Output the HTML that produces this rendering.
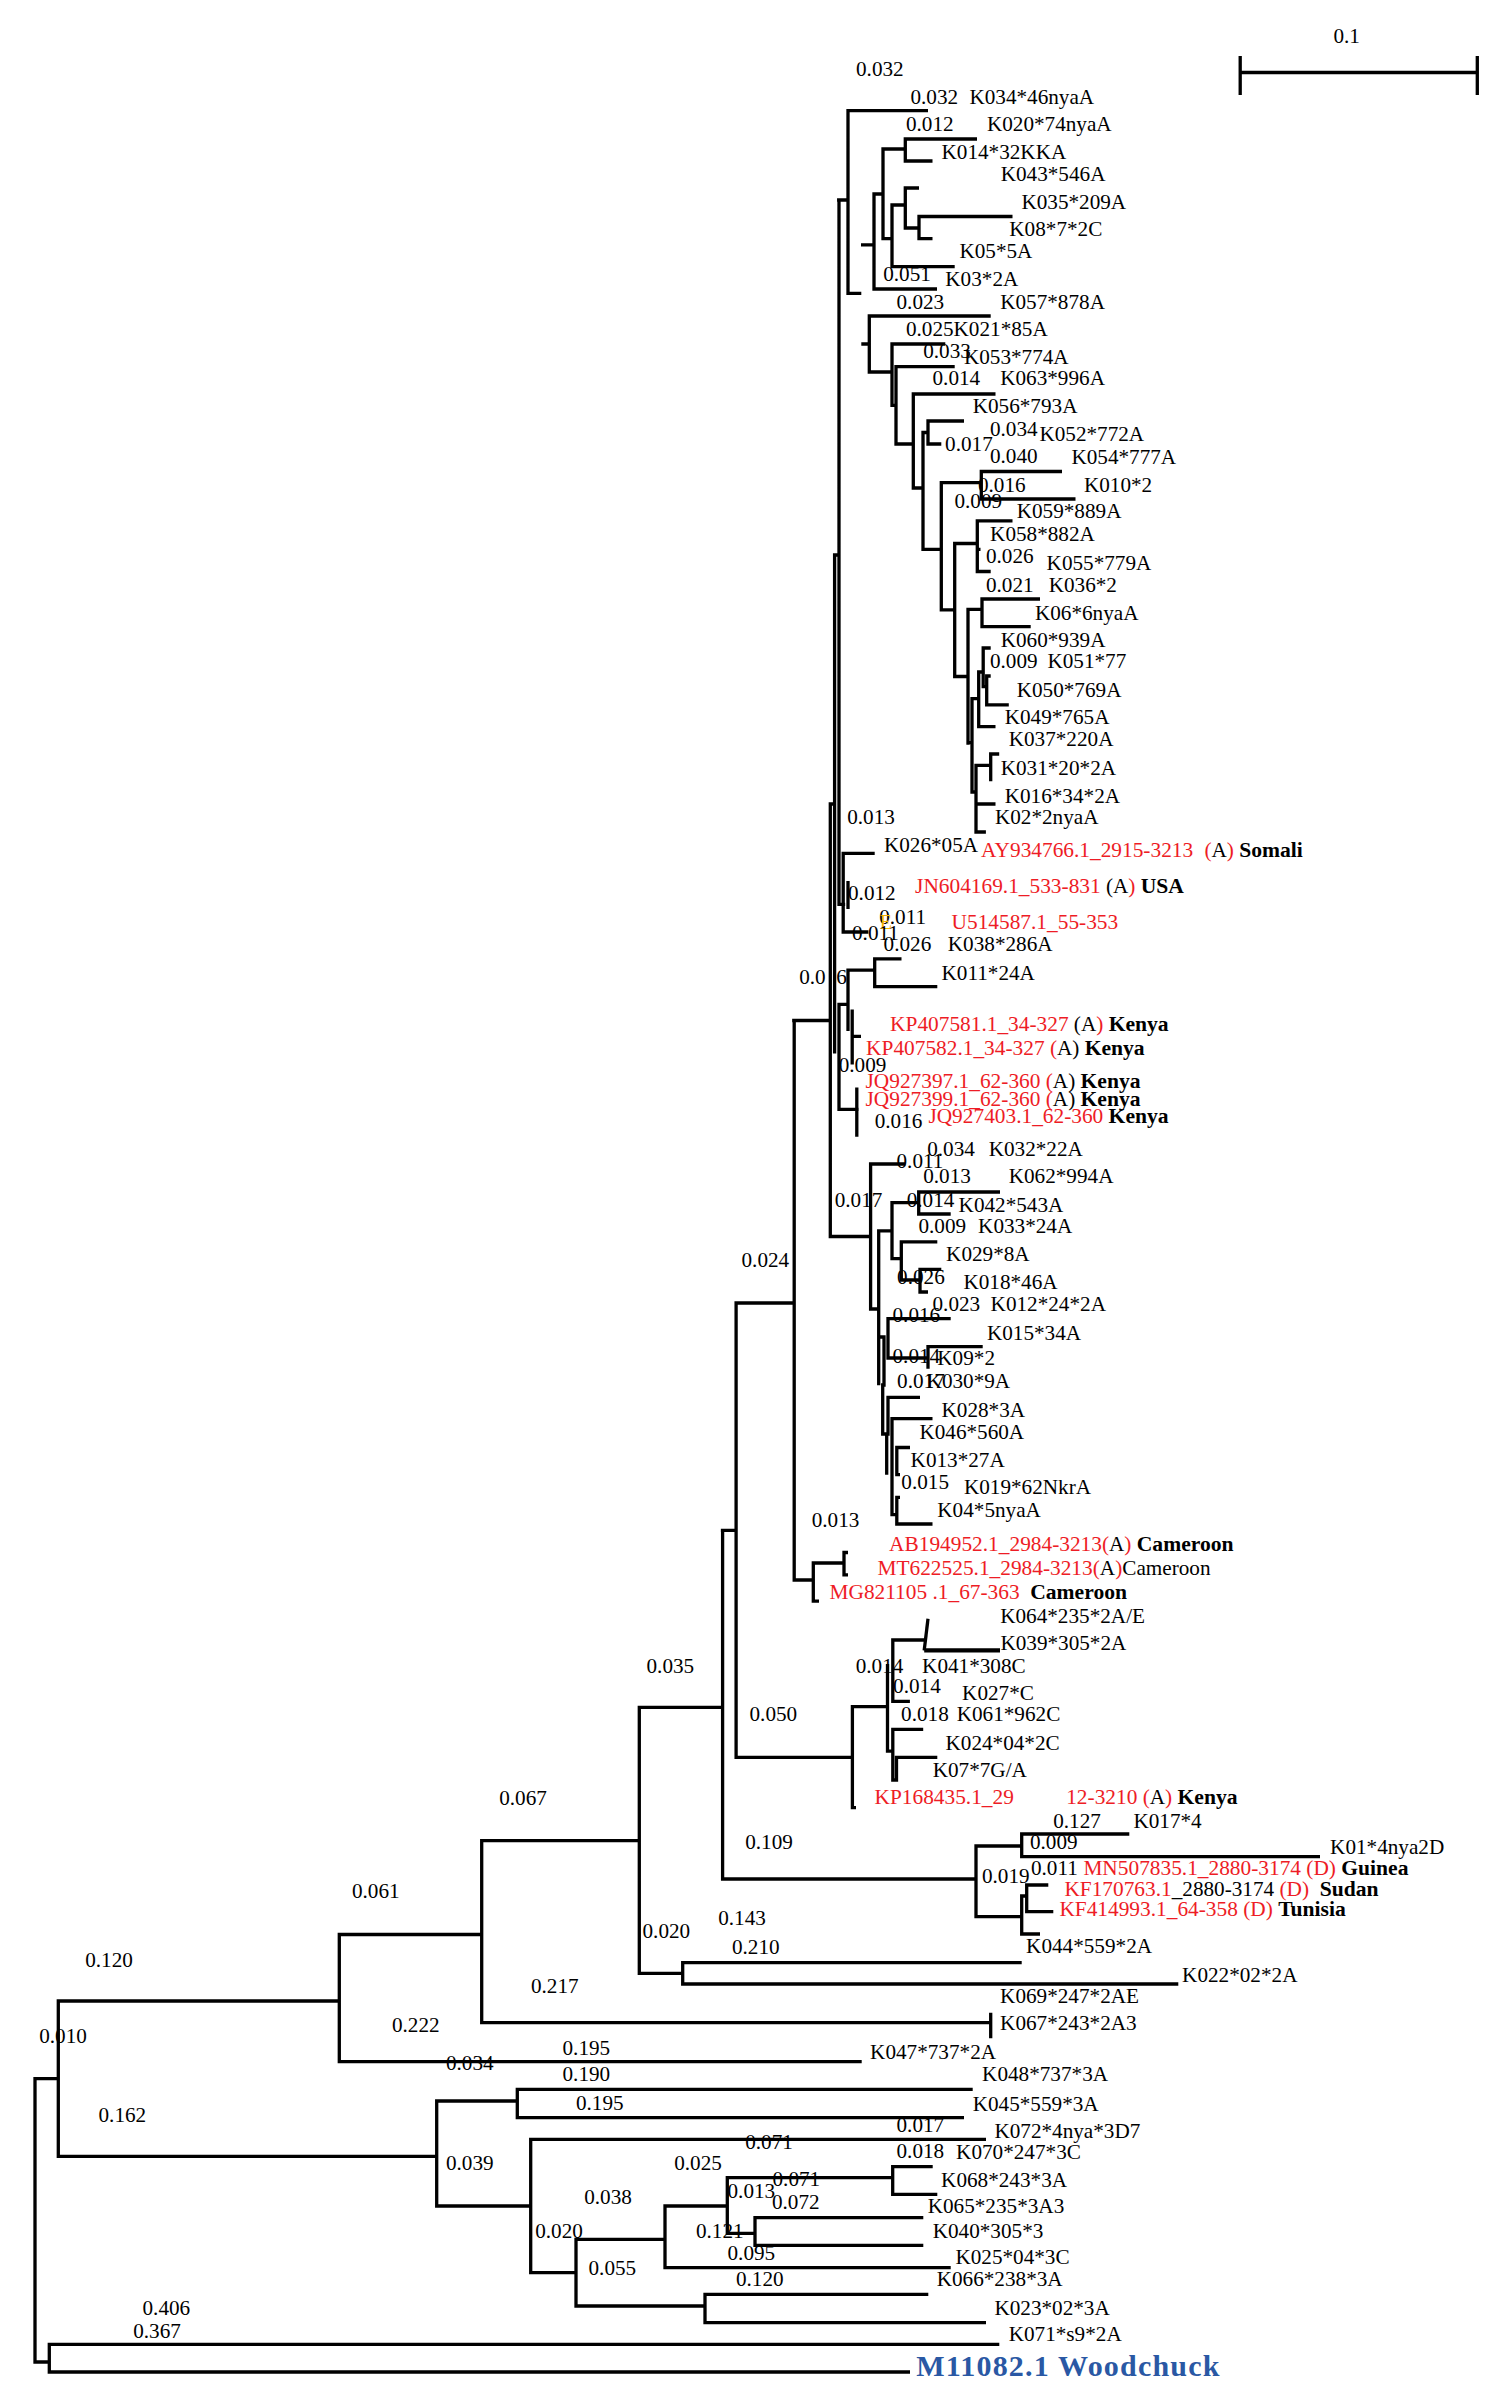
<!DOCTYPE html><html><head><meta charset="utf-8"><style>html,body{margin:0;padding:0;background:#fff;}svg{display:block;}text{font-family:"Liberation Serif",serif;white-space:pre;}</style></head><body>
<svg width="1500" height="2401" viewBox="0 0 1500 2401">
<rect width="1500" height="2401" fill="#fff"/>
<g font-size="21.2" xml:space="preserve">
<text x="1333.4" y="42.7"><tspan fill="#000">0.1</tspan></text>
<text x="856.0" y="75.5"><tspan fill="#000">0.032</tspan></text>
<text x="910.4" y="103.5"><tspan fill="#000">0.032</tspan></text>
<text x="969.4" y="103.7"><tspan fill="#000">K034*46nyaA</tspan></text>
<text x="905.9" y="130.7"><tspan fill="#000">0.012</tspan></text>
<text x="986.9" y="130.7"><tspan fill="#000">K020*74nyaA</tspan></text>
<text x="941.5" y="158.7"><tspan fill="#000">K014*32KKA</tspan></text>
<text x="1000.7" y="180.5"><tspan fill="#000">K043*546A</tspan></text>
<text x="1021.4" y="208.5"><tspan fill="#000">K035*209A</tspan></text>
<text x="1009.3" y="236.0"><tspan fill="#000">K08*7*2C</tspan></text>
<text x="959.4" y="258.0"><tspan fill="#000">K05*5A</tspan></text>
<text x="883.2" y="280.5"><tspan fill="#000">0.051</tspan></text>
<text x="945.3" y="285.9"><tspan fill="#000">K03*2A</tspan></text>
<text x="896.5" y="308.8"><tspan fill="#000">0.023</tspan></text>
<text x="1000.2" y="308.8"><tspan fill="#000">K057*878A</tspan></text>
<text x="905.9" y="336.0"><tspan fill="#000">0.025K021*85A</tspan></text>
<text x="923.2" y="357.9"><tspan fill="#000">0.033</tspan></text>
<text x="963.9" y="363.5"><tspan fill="#000">K053*774A</tspan></text>
<text x="932.5" y="385.3"><tspan fill="#000">0.014</tspan></text>
<text x="1000.2" y="385.3"><tspan fill="#000">K063*996A</tspan></text>
<text x="972.7" y="412.8"><tspan fill="#000">K056*793A</tspan></text>
<text x="989.9" y="436.0"><tspan fill="#000">0.034</tspan></text>
<text x="1039.4" y="441.3"><tspan fill="#000">K052*772A</tspan></text>
<text x="945.1" y="450.7"><tspan fill="#000">0.017</tspan></text>
<text x="989.9" y="462.7"><tspan fill="#000">0.040</tspan></text>
<text x="1071.4" y="463.5"><tspan fill="#000">K054*777A</tspan></text>
<text x="977.9" y="492.0"><tspan fill="#000">0.016</tspan></text>
<text x="1083.9" y="492.0"><tspan fill="#000">K010*2</tspan></text>
<text x="954.4" y="508.0"><tspan fill="#000">0.009</tspan></text>
<text x="1016.7" y="518.0"><tspan fill="#000">K059*889A</tspan></text>
<text x="990.1" y="540.5"><tspan fill="#000">K058*882A</tspan></text>
<text x="985.9" y="563.2"><tspan fill="#000">0.026</tspan></text>
<text x="1046.6" y="569.9"><tspan fill="#000">K055*779A</tspan></text>
<text x="985.9" y="592.0"><tspan fill="#000">0.021</tspan></text>
<text x="1048.7" y="592.0"><tspan fill="#000">K036*2</tspan></text>
<text x="1034.9" y="620.0"><tspan fill="#000">K06*6nyaA</tspan></text>
<text x="1000.7" y="647.2"><tspan fill="#000">K060*939A</tspan></text>
<text x="989.9" y="668.0"><tspan fill="#000">0.009</tspan></text>
<text x="1047.4" y="668.0"><tspan fill="#000">K051*77</tspan></text>
<text x="1016.7" y="697.3"><tspan fill="#000">K050*769A</tspan></text>
<text x="1004.7" y="723.5"><tspan fill="#000">K049*765A</tspan></text>
<text x="1008.7" y="745.5"><tspan fill="#000">K037*220A</tspan></text>
<text x="1000.7" y="774.7"><tspan fill="#000">K031*20*2A</tspan></text>
<text x="1004.7" y="802.7"><tspan fill="#000">K016*34*2A</tspan></text>
<text x="847.2" y="823.5"><tspan fill="#000">0.013</tspan></text>
<text x="994.9" y="823.5"><tspan fill="#000">K02*2nyaA</tspan></text>
<text x="883.9" y="852.0"><tspan fill="#000">K026*05A</tspan></text>
<text x="981.1" y="857.3"><tspan fill="#ee1c25" font-size="21.35">AY934766.1_2915-3213 </tspan></text>
<text x="1204.4" y="857.3"><tspan fill="#ee1c25" font-size="21.35">(</tspan><tspan fill="#000">A</tspan><tspan fill="#ee1c25" font-size="21.35">)</tspan><tspan fill="#000"> </tspan><tspan fill="#000" font-weight="bold" font-size="21.6">Somali</tspan></text>
<text x="848.0" y="900.0"><tspan fill="#000">0.012</tspan></text>
<text x="915.1" y="893.3"><tspan fill="#ee1c25" font-size="21.35">JN604169.1_533-831</tspan><tspan fill="#000"> (A</tspan><tspan fill="#ee1c25" font-size="21.35">)</tspan><tspan fill="#000"> </tspan><tspan fill="#000" font-weight="bold" font-size="21.6">USA</tspan></text>
<text x="879.2" y="923.6"><tspan fill="#000">0.011</tspan></text>
<text x="879.8" y="928.8" font-size="20"><tspan fill="#f7b500">E</tspan></text>
<text x="951.6" y="928.5"><tspan fill="#ee1c25" font-size="21.35">U514587.1_55-353</tspan></text>
<text x="852.0" y="940.0"><tspan fill="#000">0.011</tspan></text>
<text x="883.6" y="951.0"><tspan fill="#000">0.026</tspan></text>
<text x="947.8" y="951.0"><tspan fill="#000">K038*286A</tspan></text>
<text x="799.2" y="984.0"><tspan fill="#000">0.016</tspan></text>
<text x="941.5" y="980.0"><tspan fill="#000">K011*24A</tspan></text>
<text x="890.1" y="1030.7"><tspan fill="#ee1c25" font-size="21.35">KP407581.1_34-327</tspan><tspan fill="#000"> (A</tspan><tspan fill="#ee1c25" font-size="21.35">)</tspan><tspan fill="#000"> </tspan><tspan fill="#000" font-weight="bold" font-size="21.6">Kenya</tspan></text>
<text x="866.1" y="1054.5"><tspan fill="#ee1c25" font-size="21.35">KP407582.1_34-327 (</tspan><tspan fill="#000">A)</tspan><tspan fill="#000"> </tspan><tspan fill="#000" font-weight="bold" font-size="21.6">Kenya</tspan></text>
<text x="838.7" y="1071.7"><tspan fill="#000">0.009</tspan></text>
<text x="865.5" y="1087.5"><tspan fill="#ee1c25" font-size="21.35">JQ927397.1_62-360 (</tspan><tspan fill="#000">A)</tspan><tspan fill="#000"> </tspan><tspan fill="#000" font-weight="bold" font-size="21.6">Kenya</tspan></text>
<text x="865.5" y="1106.0"><tspan fill="#ee1c25" font-size="21.35">JQ927399.1_62-360 (</tspan><tspan fill="#000">A)</tspan><tspan fill="#000"> </tspan><tspan fill="#000" font-weight="bold" font-size="21.6">Kenya</tspan></text>
<text x="874.7" y="1128.0"><tspan fill="#000">0.016</tspan></text>
<text x="928.4" y="1123.3"><tspan fill="#ee1c25" font-size="21.35">JQ927403.1_62-360</tspan><tspan fill="#000"> </tspan><tspan fill="#000" font-weight="bold" font-size="21.6">Kenya</tspan></text>
<text x="927.2" y="1156.0"><tspan fill="#000">0.034</tspan></text>
<text x="988.7" y="1156.0"><tspan fill="#000">K032*22A</tspan></text>
<text x="896.5" y="1167.5"><tspan fill="#000">0.011</tspan></text>
<text x="923.2" y="1182.7"><tspan fill="#000">0.013</tspan></text>
<text x="1008.7" y="1182.7"><tspan fill="#000">K062*994A</tspan></text>
<text x="834.7" y="1207.0"><tspan fill="#000">0.017</tspan></text>
<text x="906.7" y="1206.7"><tspan fill="#000">0.014</tspan></text>
<text x="958.6" y="1211.5"><tspan fill="#000">K042*543A</tspan></text>
<text x="918.4" y="1233.3"><tspan fill="#000">0.009</tspan></text>
<text x="978.1" y="1233.3"><tspan fill="#000">K033*24A</tspan></text>
<text x="741.5" y="1266.9"><tspan fill="#000">0.024</tspan></text>
<text x="946.1" y="1260.5"><tspan fill="#000">K029*8A</tspan></text>
<text x="897.1" y="1284.0"><tspan fill="#000">0.026</tspan></text>
<text x="963.4" y="1288.8"><tspan fill="#000">K018*46A</tspan></text>
<text x="932.5" y="1310.7"><tspan fill="#000">0.023</tspan></text>
<text x="990.6" y="1310.7"><tspan fill="#000">K012*24*2A</tspan></text>
<text x="892.5" y="1321.9"><tspan fill="#000">0.016</tspan></text>
<text x="986.9" y="1339.5"><tspan fill="#000">K015*34A</tspan></text>
<text x="892.5" y="1362.7"><tspan fill="#000">0.014</tspan></text>
<text x="937.3" y="1365.3"><tspan fill="#000">K09*2</tspan></text>
<text x="897.1" y="1388.0"><tspan fill="#000">0.017</tspan></text>
<text x="926.6" y="1388.0"><tspan fill="#000">K030*9A</tspan></text>
<text x="941.5" y="1417.0"><tspan fill="#000">K028*3A</tspan></text>
<text x="919.4" y="1438.5"><tspan fill="#000">K046*560A</tspan></text>
<text x="910.6" y="1467.2"><tspan fill="#000">K013*27A</tspan></text>
<text x="901.3" y="1489.3"><tspan fill="#000">0.015</tspan></text>
<text x="963.9" y="1493.9"><tspan fill="#000">K019*62NkrA</tspan></text>
<text x="937.3" y="1516.8"><tspan fill="#000">K04*5nyaA</tspan></text>
<text x="811.7" y="1527.4"><tspan fill="#000">0.013</tspan></text>
<text x="889.1" y="1551.0"><tspan fill="#ee1c25" font-size="21.35">AB194952.1_2984-3213(</tspan><tspan fill="#000">A</tspan><tspan fill="#ee1c25" font-size="21.35">)</tspan><tspan fill="#000"> </tspan><tspan fill="#000" font-weight="bold" font-size="21.6">Cameroon</tspan></text>
<text x="877.5" y="1574.5"><tspan fill="#ee1c25" font-size="21.35">MT622525.1_2984-3213(</tspan><tspan fill="#000">A</tspan><tspan fill="#ee1c25" font-size="21.35">)</tspan><tspan fill="#000">Cameroon</tspan></text>
<text x="829.5" y="1598.7"><tspan fill="#ee1c25" font-size="21.35">MG821105 .1_67-363</tspan><tspan fill="#000">  </tspan><tspan fill="#000" font-weight="bold" font-size="21.6">Cameroon</tspan></text>
<text x="1000.2" y="1622.7"><tspan fill="#000">K064*235*2A/E</tspan></text>
<text x="1000.4" y="1650.3"><tspan fill="#000">K039*305*2A</tspan></text>
<text x="646.5" y="1672.7"><tspan fill="#000">0.035</tspan></text>
<text x="855.7" y="1672.8"><tspan fill="#000">0.014</tspan></text>
<text x="922.1" y="1672.8"><tspan fill="#000">K041*308C</tspan></text>
<text x="893.1" y="1693.3"><tspan fill="#000">0.014</tspan></text>
<text x="962.1" y="1700.0"><tspan fill="#000">K027*C</tspan></text>
<text x="749.5" y="1721.0"><tspan fill="#000">0.050</tspan></text>
<text x="901.1" y="1721.3"><tspan fill="#000">0.018</tspan></text>
<text x="956.7" y="1721.3"><tspan fill="#000">K061*962C</tspan></text>
<text x="945.5" y="1750.1"><tspan fill="#000">K024*04*2C</tspan></text>
<text x="932.7" y="1776.5"><tspan fill="#000">K07*7G/A</tspan></text>
<text x="874.5" y="1803.6"><tspan fill="#ee1c25" font-size="21.35">KP168435.1_29</tspan></text>
<text x="1066.2" y="1803.6"><tspan fill="#ee1c25" font-size="21.35">12-3210 (</tspan><tspan fill="#000">A</tspan><tspan fill="#ee1c25" font-size="21.35">)</tspan><tspan fill="#000"> </tspan><tspan fill="#000" font-weight="bold" font-size="21.6">Kenya</tspan></text>
<text x="499.2" y="1805.0"><tspan fill="#000">0.067</tspan></text>
<text x="1053.2" y="1828.0"><tspan fill="#000">0.127</tspan></text>
<text x="1133.4" y="1828.3"><tspan fill="#000">K017*4</tspan></text>
<text x="745.2" y="1848.5"><tspan fill="#000">0.109</tspan></text>
<text x="1029.9" y="1849.0"><tspan fill="#000">0.009</tspan></text>
<text x="1330.1" y="1854.0"><tspan fill="#000">K01*4nya2D</tspan></text>
<text x="1030.9" y="1875.0"><tspan fill="#000">0.011</tspan></text>
<text x="1083.4" y="1875.0"><tspan fill="#ee1c25" font-size="21.35">MN507835.1_2880-3174 (D)</tspan><tspan fill="#000"> </tspan><tspan fill="#000" font-weight="bold" font-size="21.6">Guinea</tspan></text>
<text x="981.9" y="1882.7"><tspan fill="#000">0.019</tspan></text>
<text x="1064.4" y="1896.0"><tspan fill="#ee1c25" font-size="21.35">KF170763.1</tspan><tspan fill="#000">_2880-3174 </tspan><tspan fill="#ee1c25" font-size="21.35">(D)</tspan><tspan fill="#000">  </tspan><tspan fill="#000" font-weight="bold" font-size="21.6">Sudan</tspan></text>
<text x="1059.4" y="1916.0"><tspan fill="#ee1c25" font-size="21.35">KF414993.1_64-358 (D)</tspan><tspan fill="#000"> </tspan><tspan fill="#000" font-weight="bold" font-size="21.6">Tunisia</tspan></text>
<text x="351.9" y="1898.3"><tspan fill="#000">0.061</tspan></text>
<text x="718.2" y="1925.0"><tspan fill="#000">0.143</tspan></text>
<text x="642.5" y="1938.3"><tspan fill="#000">0.020</tspan></text>
<text x="1026.1" y="1953.3"><tspan fill="#000">K044*559*2A</tspan></text>
<text x="731.9" y="1954.0"><tspan fill="#000">0.210</tspan></text>
<text x="85.2" y="1966.7"><tspan fill="#000">0.120</tspan></text>
<text x="1182.1" y="1981.7"><tspan fill="#000">K022*02*2A</tspan></text>
<text x="530.9" y="1993.3"><tspan fill="#000">0.217</tspan></text>
<text x="1000.1" y="2003.3"><tspan fill="#000">K069*247*2AE</tspan></text>
<text x="391.9" y="2031.7"><tspan fill="#000">0.222</tspan></text>
<text x="1000.1" y="2030.0"><tspan fill="#000">K067*243*2A3</tspan></text>
<text x="39.2" y="2043.3"><tspan fill="#000">0.010</tspan></text>
<text x="562.5" y="2055.0"><tspan fill="#000">0.195</tspan></text>
<text x="870.1" y="2059.3"><tspan fill="#000">K047*737*2A</tspan></text>
<text x="445.9" y="2070.0"><tspan fill="#000">0.034</tspan></text>
<text x="562.5" y="2080.5"><tspan fill="#000">0.190</tspan></text>
<text x="982.1" y="2080.7"><tspan fill="#000">K048*737*3A</tspan></text>
<text x="575.9" y="2109.5"><tspan fill="#000">0.195</tspan></text>
<text x="972.7" y="2111.0"><tspan fill="#000">K045*559*3A</tspan></text>
<text x="98.5" y="2121.5"><tspan fill="#000">0.162</tspan></text>
<text x="896.5" y="2132.0"><tspan fill="#000">0.017</tspan></text>
<text x="994.4" y="2137.7"><tspan fill="#000">K072*4nya*3D7</tspan></text>
<text x="745.2" y="2149.0"><tspan fill="#000">0.071</tspan></text>
<text x="896.5" y="2158.0"><tspan fill="#000">0.018</tspan></text>
<text x="956.1" y="2158.7"><tspan fill="#000">K070*247*3C</tspan></text>
<text x="445.9" y="2170.0"><tspan fill="#000">0.039</tspan></text>
<text x="674.2" y="2170.0"><tspan fill="#000">0.025</tspan></text>
<text x="772.5" y="2186.0"><tspan fill="#000">0.071</tspan></text>
<text x="941.1" y="2186.7"><tspan fill="#000">K068*243*3A</tspan></text>
<text x="727.5" y="2197.7"><tspan fill="#000">0.013</tspan></text>
<text x="584.2" y="2204.3"><tspan fill="#000">0.038</tspan></text>
<text x="771.9" y="2209.3"><tspan fill="#000">0.072</tspan></text>
<text x="927.7" y="2213.3"><tspan fill="#000">K065*235*3A3</tspan></text>
<text x="535.2" y="2237.7"><tspan fill="#000">0.020</tspan></text>
<text x="695.9" y="2237.7"><tspan fill="#000">0.121</tspan></text>
<text x="932.7" y="2237.7"><tspan fill="#000">K040*305*3</tspan></text>
<text x="727.5" y="2260.0"><tspan fill="#000">0.095</tspan></text>
<text x="955.4" y="2264.3"><tspan fill="#000">K025*04*3C</tspan></text>
<text x="588.5" y="2275.3"><tspan fill="#000">0.055</tspan></text>
<text x="735.9" y="2286.0"><tspan fill="#000">0.120</tspan></text>
<text x="936.7" y="2286.0"><tspan fill="#000">K066*238*3A</tspan></text>
<text x="142.5" y="2315.3"><tspan fill="#000">0.406</tspan></text>
<text x="994.4" y="2315.3"><tspan fill="#000">K023*02*3A</tspan></text>
<text x="133.2" y="2337.7"><tspan fill="#000">0.367</tspan></text>
<text x="1008.7" y="2341.0"><tspan fill="#000">K071*s9*2A</tspan></text>
<text x="916.2" y="2376.0" font-size="30"><tspan fill="#2a58a4" font-weight="bold" letter-spacing="1.2">M11082.1 Woodchuck</tspan></text>
</g>
<rect x="826" y="966" width="8" height="21" fill="#fff"/>
<path d="M928 1618.7L924.2 1650.5" stroke="#000" stroke-width="3.3" fill="none"/>
<path d="M924.2 1650.3H1000" stroke="#000" stroke-width="4.2" fill="none"/>
<path d="M1238.55 72.50H1478.95M1240.20 56.00V95.00M1477.30 56.00V95.00M846.35 110.70H928.00M848.00 109.05V294.95M846.35 293.30H861.30M837.05 200.00H849.65M839.00 198.35V905.95M837.35 904.30H845.15M861.00 244.80H875.65M874.00 192.35V290.65M872.35 194.00H884.65M872.35 289.00H937.00M883.00 147.35V240.35M881.35 149.00H906.95M881.35 238.70H893.65M905.30 137.35V162.65M903.65 139.00H977.00M903.65 161.00H932.50M892.00 203.35V268.35M890.35 205.00H906.95M890.35 266.70H954.70M905.30 186.35V229.65M903.65 188.00H919.00M903.65 228.00H920.65M919.00 214.85V240.35M917.35 216.50H1012.50M917.35 238.70H932.50M861.30 344.00H870.95M869.30 314.35V373.65M867.65 316.00H990.70M867.65 372.00H893.65M892.00 342.35V406.95M890.35 344.00H945.30M890.35 405.30H897.65M896.00 365.05V445.65M894.35 366.70H954.70M894.35 444.00H914.95M913.30 392.35V489.65M911.65 394.00H995.50M911.65 488.00H924.65M923.00 430.85V550.95M921.35 432.50H929.65M928.00 419.35V445.65M926.35 421.00H964.00M926.35 444.00H941.30M921.35 549.30H942.95M941.30 481.05V611.55M939.65 482.70H982.95M981.30 469.85V500.65M979.65 471.50H1062.00M979.65 499.00H1075.50M939.65 609.90H956.35M954.70 541.85V678.15M953.05 543.50H978.95M977.30 519.15V573.15M975.65 520.80H1012.50M975.65 571.50H990.70M975.65 549.30H980.50M953.05 676.50H969.65M968.00 607.65V744.65M966.35 609.30H983.65M982.00 597.35V628.35M980.35 599.00H1040.00M980.35 626.70H1030.70M983.20 646.35V688.35M981.55 648.00H990.70M981.55 686.70H988.35M978.70 670.35V728.35M977.05 672.00H984.85M977.05 726.70H995.50M986.70 674.35V706.45M985.05 676.00H990.70M985.05 704.80H1008.80M972.00 697.05V793.65M970.35 698.70H980.35M966.35 742.70H973.65M976.00 763.65V833.65M974.35 765.30H992.35M974.35 804.00H995.50M974.35 832.00H985.90M970.35 792.00H977.65M990.70 752.35V781.30M989.05 754.00H999.20M834.60 553.35V1053.50M832.95 555.00H840.65M830.30 802.35V1237.65M828.65 804.00H836.25M843.20 851.65V933.65M841.55 853.30H874.70M841.55 932.00H868.40M848.00 881.00V909.00M874.70 957.15V988.35M873.05 958.80H901.50M873.05 986.70H937.30M846.35 970.20H876.35M848.00 968.55V1031.00M837.35 1004.30H849.15M839.00 1002.65V1110.95M837.35 1109.30H858.65M852.20 1009.50V1064.50M850.55 1036.40H861.00M856.80 1087.50V1136.70M792.15 1020.50H831.95M870.60 1162.35V1310.65M868.95 1164.00H905.30M828.65 1236.50H872.25M868.95 1309.00H880.35M878.70 1229.25V1385.30M877.05 1230.90H893.65M892.00 1201.05V1260.35M890.35 1202.70H920.35M890.35 1258.70H902.95M918.70 1190.35V1215.65M917.05 1192.00H1000.00M917.05 1214.00H950.70M901.30 1240.25V1281.65M899.65 1241.90H937.30M899.65 1280.00H921.65M920.00 1267.65V1293.65M918.35 1269.30H941.30M918.35 1292.00H928.00M884.00 1335.35V1386.65M877.05 1337.00H885.65M882.70 1383.35V1435.65M881.05 1434.00H888.35M888.00 1317.05V1359.65M886.35 1318.70H950.70M886.35 1358.00H929.65M928.00 1345.05V1368.80M926.35 1346.70H982.70M888.00 1395.65V1435.65M886.35 1397.30H920.00M886.70 1432.35V1474.70M892.00 1417.05V1516.35M890.35 1418.70H932.50M890.35 1514.70H898.45M896.80 1445.85V1476.35M895.15 1447.50H910.00M895.15 1474.70H900.00M896.80 1495.65V1525.65M895.15 1497.30H900.00M895.15 1524.00H932.50M794.20 1018.85V1581.65M792.55 1580.00H814.95M813.30 1561.35V1602.85M811.65 1563.00H845.65M811.65 1601.20H819.00M844.00 1550.85V1576.45M842.35 1552.50H848.00M842.35 1574.80H848.00M734.45 1303.00H795.85M736.10 1301.35V1758.95M734.45 1757.30H853.65M720.85 1530.30H737.75M722.60 1528.65V1880.65M720.95 1879.00H977.65M852.40 1705.05V1809.25M850.75 1706.70H889.15M850.75 1807.60H856.00M887.50 1664.00V1752.85M885.85 1751.20H894.45M892.80 1638.35V1702.95M891.15 1640.00H925.30M891.15 1701.30H909.90M892.80 1727.65V1781.65M891.15 1729.30H923.20M891.15 1780.00H898.15M896.50 1755.65V1781.65M894.85 1757.30H937.30M976.00 1844.35V1918.35M976.00 1844.35V1880.65M974.35 1846.00H1023.35M974.35 1916.70H1023.35M1021.70 1832.35V1858.35M1020.05 1834.00H1129.30M1020.05 1856.70H1320.00M1021.70 1894.35V1935.65M1020.05 1934.00H1040.00M1026.70 1883.35V1913.35M1025.05 1885.00H1048.30M1025.05 1911.70H1053.30M1020.05 1896.00H1028.35M637.65 1707.30H724.15M639.30 1705.65V1974.95M637.65 1973.30H684.35M682.70 1961.05V1985.65M681.05 1962.70H1021.70M681.05 1984.00H1178.30M480.05 1840.70H640.95M481.70 1839.05V2024.35M480.05 2022.70H992.35M990.70 2012.70V2038.30M337.65 1934.50H483.35M339.30 1932.85V2063.35M337.65 2061.70H861.70M56.65 2001.00H340.95M58.30 1999.35V2157.95M56.65 2156.30H438.35M436.70 2099.35V2207.65M435.05 2101.00H518.95M435.05 2206.00H532.35M517.30 2087.65V2119.35M515.65 2089.30H972.70M515.65 2117.70H964.00M530.70 2137.65V2274.35M529.05 2139.30H986.00M529.05 2272.70H577.65M576.00 2237.65V2307.65M574.35 2239.30H666.65M574.35 2306.00H706.65M665.00 2204.35V2269.35M663.35 2206.00H728.95M663.35 2267.70H950.70M727.30 2176.05V2234.95M725.65 2177.70H894.35M725.65 2233.30H756.65M892.70 2165.05V2195.95M891.05 2166.70H932.70M891.05 2194.30H937.30M755.00 2216.05V2246.95M753.35 2217.70H923.30M753.35 2245.30H923.30M705.00 2292.65V2324.35M703.35 2294.30H928.30M703.35 2322.70H986.00M33.35 2078.70H59.95M35.00 2077.05V2363.65M33.35 2362.00H50.95M49.30 2342.65V2373.65M47.65 2344.30H999.30M47.65 2372.00H910.00" stroke="#000" stroke-width="3.3" fill="none"/>
</svg></body></html>
